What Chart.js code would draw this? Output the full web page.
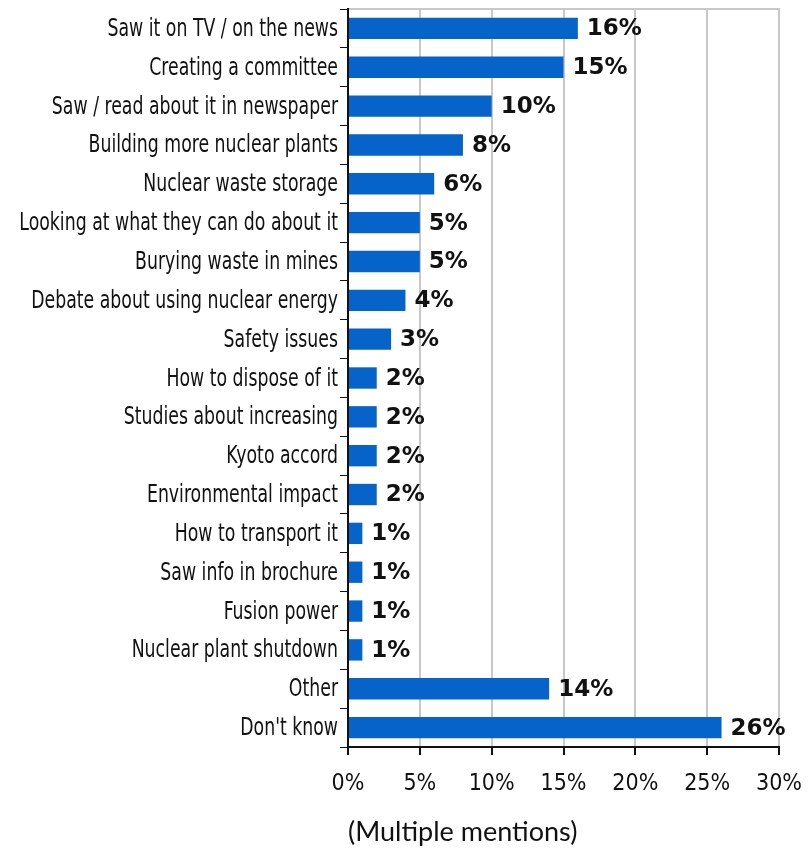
<!DOCTYPE html>
<html>
<head>
<meta charset="utf-8">
<script src="https://cdn.jsdelivr.net/npm/chart.js@4"></script>
<style>
  html, body { margin: 0; padding: 0; background: #fff; }
  #wrap { width: 810px; height: 848px; }
</style>
</head>
<body>
<div id="wrap"><canvas id="mentionsChart" width="810" height="848"></canvas></div>
<script>
// categories and values
const categories = [
  'Saw it on TV / on the news',
  'Creating a committee',
  'Saw / read about it in newspaper',
  'Building more nuclear plants',
  'Nuclear waste storage',
  'Looking at what they can do about it',
  'Burying waste in mines',
  'Debate about using nuclear energy',
  'Safety issues',
  'How to dispose of it',
  'Studies about increasing',
  'Kyoto accord',
  'Environmental impact',
  'How to transport it',
  'Saw info in brochure',
  'Fusion power',
  'Nuclear plant shutdown',
  'Other',
  "Don't know"
];
const mentions = [16, 15, 10, 8, 6, 5, 5, 4, 3, 2, 2, 2, 2, 1, 1, 1, 1, 14, 26];
const xTicks = [0, 5, 10, 15, 20, 25, 30];
const axisTitle = '(Multiple mentions)';

const condensed = '"Liberation Sans Narrow", "DejaVu Sans Condensed", sans-serif';

// category names: tall but squeezed, like the original condensed face
const squeezedLabels = {
  id: 'squeezedLabels',
  afterDraw(chart) {
    const c = chart.ctx;
    const y = chart.scales.y;
    c.save();
    c.font = '25px ' + condensed;
    c.fillStyle = '#111';
    c.textAlign = 'right';
    c.textBaseline = 'middle';
    categories.forEach((name, i) => {
      c.save();
      c.translate(y.right - 10, y.getPixelForValue(i) + 1);
      c.scale(0.77, 1);
      c.fillText(name, 0, 0);
      c.restore();
    });
    c.restore();
  }
};

// write the % value at the end of every bar
const valueLabels = {
  id: 'valueLabels',
  afterDatasetsDraw(chart) {
    const c = chart.ctx;
    const meta = chart.getDatasetMeta(0);
    c.save();
    c.font = 'bold 23px "DejaVu Sans", sans-serif';
    c.fillStyle = '#111';
    c.textAlign = 'left';
    c.textBaseline = 'middle';
    meta.data.forEach((bar, i) => {
      c.fillText(mentions[i] + '%', bar.x + 9, bar.y + 1);
    });
    c.restore();
  }
};

new Chart(document.getElementById('mentionsChart'), {
  type: 'bar',
  data: {
    labels: categories,
    datasets: [{
      data: mentions,
      backgroundColor: '#0563c9',
      borderWidth: 0,
      categoryPercentage: 0.55,
      barPercentage: 1
    }]
  },
  options: {
    indexAxis: 'y',
    responsive: false,
    animation: false,
    layout: { padding: { top: 0, right: 31, left: 0, bottom: 0 } },
    plugins: {
      legend: { display: false },
      tooltip: { enabled: false }
    },
    scales: {
      x: {
        min: 0,
        max: 30,
        afterBuildTicks: (axis) => { axis.ticks = xTicks.map(v => ({ value: v })); },
        afterFit: (axis) => { axis.paddingLeft = 0; axis.paddingRight = 0; },
        grid: { color: '#c8c8c8', lineWidth: 2, tickColor: '#111', tickLength: 8 },
        border: { color: '#111', width: 2 },
        ticks: {
          color: '#111',
          font: { family: condensed, size: 23 },
          padding: 15,
          callback: (v) => v + '%'
        },
        title: {
          display: true,
          text: axisTitle,
          align: 'start',
          color: '#111',
          font: { family: 'Lato, "Open Sans", sans-serif', size: 27 },
          padding: { top: 3, bottom: 0 }
        }
      },
      xTop: {
        position: 'top',
        axis: 'x',
        min: 0,
        max: 30,
        afterFit: (axis) => { axis.height = 9; axis.paddingLeft = 0; axis.paddingRight = 0; },
        grid: { display: false, drawTicks: false },
        border: { color: '#c8c8c8', width: 2 },
        ticks: { display: false }
      },
      y: {
        afterFit: (axis) => { axis.width = 348; axis.paddingTop = 0; axis.paddingBottom = 0; },
        grid: { drawOnChartArea: false, color: '#111', tickLength: 8, offset: true },
        border: { color: '#111', width: 2 },
        ticks: { display: false, autoSkip: false }
      }
    }
  },
  plugins: [valueLabels, squeezedLabels]
});
</script>
</body>
</html>
